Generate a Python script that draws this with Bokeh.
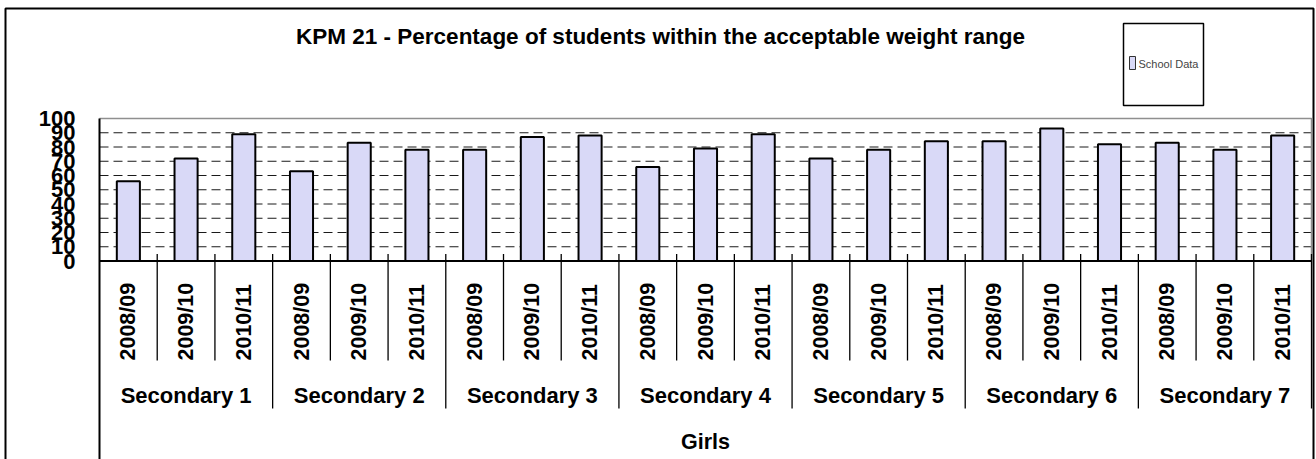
import math

from bokeh.core.properties import value
from bokeh.embed import file_html
from bokeh.models import ColumnDataSource, FixedTicker, Grid, LinearAxis, Range1d
from bokeh.plotting import figure
from bokeh.resources import INLINE

# ---- data -------------------------------------------------------------
chart_title = "KPM 21 - Percentage of students within the acceptable weight range"
gender = "Girls"
schools = ["Secondary 1", "Secondary 2", "Secondary 3", "Secondary 4",
           "Secondary 5", "Secondary 6", "Secondary 7"]
years = ["2008/09", "2009/10", "2010/11"]
pct_2008_09 = [56, 63, 78, 66, 72, 84, 83]
pct_2009_10 = [72, 83, 87, 79, 78, 93, 78]
pct_2010_11 = [89, 78, 88, 89, 84, 82, 88]
y_ticks = [0, 10, 20, 30, 40, 50, 60, 70, 80, 90, 100]
grid_ticks = [10, 20, 30, 40, 50, 60, 70, 80, 90]
legend_label = "School Data"

by_year = {"2008/09": pct_2008_09, "2009/10": pct_2009_10, "2010/11": pct_2010_11}

# ---- layout constants (canvas pixels) --------------------------------
W, H = 1316, 459
FRAME_L, FRAME_R = 99, 1311          # category area, left and right edges
ZERO_Y, HUNDRED_Y = 260.5, 118.0     # canvas rows of 0 % and 100 %
PX = (ZERO_Y - HUNDRED_Y) / 100.0
FONT = "Liberation Sans"
BASE_SHIFT = 8.5  # alphabetic text is placed this much higher on the canvas


def ydata(sy):
    """canvas y (pixels from top) -> value on the percentage scale"""
    return (ZERO_Y - sy) / PX


def ybase(sy):
    """canvas baseline position -> y for alphabetic-baseline text"""
    return ydata(sy - BASE_SHIFT)


# one slot per (school, year); slot i is centred on i + 0.5
cats = [(s, y) for s in schools for y in years]
n_cat = len(cats)
CAT_PX = (FRAME_R - FRAME_L) / n_cat


def xdata(sx):
    """canvas x -> position on the category scale"""
    return (sx - FRAME_L) / CAT_PX


cat_x = [i + 0.5 for i in range(n_cat)]
pct = [by_year[y][schools.index(s)] for (s, y) in cats]
school_x = [sum(cat_x[k] for k, c in enumerate(cats) if c[0] == s) / len(years)
            for s in schools]

p = figure(width=W, height=H,
           x_range=Range1d(xdata(0), xdata(W)), y_range=Range1d(ydata(H), ydata(0)),
           x_axis_location=None, y_axis_location=None, title=None,
           output_backend="svg", toolbar_location=None,
           min_border=0, outline_line_color=None,
           background_fill_color="white", border_fill_color="white")
p.center = [r for r in p.center if not isinstance(r, Grid)]

# value axis pinned at the left edge of the category area; its line runs
# down through the category labels to the bottom of the chart
yaxis = LinearAxis(ticker=FixedTicker(ticks=y_ticks), fixed_location=0,
                   bounds=(ydata(H + 2), 100),
                   axis_line_color="black", axis_line_width=2,
                   major_tick_in=0, major_tick_out=0,
                   minor_tick_line_color=None,
                   major_label_standoff=24,
                   major_label_text_font=FONT,
                   major_label_text_font_style="bold",
                   major_label_text_font_size="22px",
                   major_label_text_color="black")
p.add_layout(yaxis, "left")

# dashed gridlines, limited to the category area
p.multi_line(xs=[[0, n_cat] for _ in grid_ticks], ys=[[t, t] for t in grid_ticks],
             line_color="#1a1a1a", line_width=1, line_dash="9 5")

# outer chart border (left, top, right; the bottom runs off the page)
p.multi_line(xs=[[xdata(5), xdata(5), xdata(1313), xdata(1313)]],
             ys=[[ydata(H + 5), ydata(8), ydata(8), ydata(H + 5)]],
             line_color="black", line_width=2)

# bars
src = ColumnDataSource(dict(x=cat_x, pct=pct))
p.vbar(x="x", top="pct", width=0.4, source=src,
       fill_color="#d9d9f7", line_color="black", line_width=2)

# plot-area border: grey top and right, black baseline
p.multi_line(xs=[[0, n_cat, n_cat]], ys=[[100, 100, 0]],
             line_color="#8f8f8f", line_width=1.5)
p.segment(x0=[0], y0=[0], x1=[n_cat], y1=[0], line_color="black", line_width=2)

# category separators: short ones between years, longer ones between schools
sep_x = list(range(1, n_cat + 1))
sep_y1 = [ydata(408) if k % len(years) == 0 else ydata(360) for k in sep_x]
p.segment(x0="x", y0="y0", x1="x", y1="y1", line_color="black", line_width=1.3,
          source=ColumnDataSource(dict(x=sep_x, y0=[5] * len(sep_x), y1=sep_y1)))

# year labels (vertical)
p.text(x="x", y="y", text="t", source=ColumnDataSource(
    dict(x=cat_x, y=[ydata(360)] * n_cat, t=[c[1] for c in cats])),
    angle=math.pi / 2, text_align="left", text_baseline="middle",
    text_font=value(FONT), text_font_style="bold", text_font_size="21.5px",
    text_color="black")

# school labels
p.text(x="x", y="y", text="t", source=ColumnDataSource(
    dict(x=school_x, y=[ybase(403)] * len(schools), t=schools)),
    text_align="center", text_baseline="alphabetic",
    text_font=value(FONT), text_font_style="bold", text_font_size="22px",
    text_color="black")

# outer category label
p.text(x=[n_cat / 2], y=[ybase(450)], text=[gender],
       text_align="center", text_baseline="alphabetic",
       text_font=value(FONT), text_font_style="bold", text_font_size="21.5px",
       text_color="black")

# chart title
p.text(x=[xdata(660)], y=[ybase(44.5)], text=[chart_title],
       text_align="center", text_baseline="alphabetic",
       text_font=value(FONT), text_font_style="bold", text_font_size="22.5px",
       text_color="black")

# legend box with a single swatch
p.quad(left=[xdata(1123)], right=[xdata(1203)], top=[ydata(23)], bottom=[ydata(105)],
       fill_color="white", line_color="black", line_width=1.5)
p.quad(left=[xdata(1129)], right=[xdata(1135)], top=[ydata(56)], bottom=[ydata(69)],
       fill_color="#d9d9f7", line_color="#333333", line_width=1)
p.text(x=[xdata(1138)], y=[ydata(63)], text=[legend_label],
       text_align="left", text_baseline="middle",
       text_font=value(FONT), text_font_size="11px", text_color="#444444")

open("out.html", "w").write(file_html(p, INLINE))
